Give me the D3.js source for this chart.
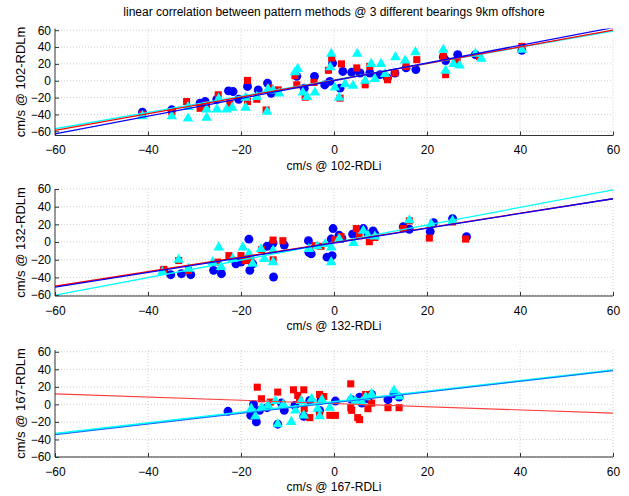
<!DOCTYPE html>
<html>
<head>
<meta charset="utf-8">
<script src="https://cdn.jsdelivr.net/npm/d3@7"></script>
<style>
body{margin:0;background:#fff;}
text{font-family:"Liberation Sans",Arial,sans-serif;fill:#000;}
.grid line{stroke:#cfcfcf;stroke-dasharray:1,2;}
.axis path,.axis line{stroke:#333;}
</style>
</head>
<body>
<div id="chart"></div>
<script>
var w = 629, h = 496;
var left = 55, right = 613;
var panelTops = [28.5, 189, 350];
var panelH = 107;

var titleText = "linear correlation between pattern methods @ 3 different bearings 9km offshore";
var bearings = ["102", "132", "167"];
var xTicks = [-60, -40, -20, 0, 20, 40, 60];
var yTicks = [-60, -40, -20, 0, 20, 40, 60];
var xLimits = [-60, 60];
var yLimits = [[-65, 62], [-61, 60], [-60, 62]];

// fitted lines, [slope, intercept]
var fitBlue = [[1.05, 0], [0.833, -1], [0.61, 1.9]];
var fitRed = [[0.992, 0.5], [0.825, -0.5], [-0.183, 1]];
var fitCyan = [[0.967, 1], [0.992, -0.5], [0.604, 2.75]];

// 102
var p1Blue = [[-41.2,-37.2],[-34.9,-34.5],[-28.8,-26.7],[-27.7,-24.7],[-25.2,-22],[-22.7,-12],[-21.7,-12.8],
  [-20.5,-22],[-18.6,-6.8],[-16.3,-10.8],[-14.3,-2.8],[-13.5,-15],[-8,5.2],[-6.4,-8.8],[-4.2,5.2],[-2,-5],
  [-0.3,21],[-0.9,-0.8],[1.3,-8.8],[1.9,11],[3.8,10],[5.6,9.2],[7.7,9.2],[9.9,7.2],[11.5,3.2],[13.1,9.2],
  [15.5,15.2],[17.6,13.2],[23.5,28.3],[24,24],[26.6,31],[30.4,31],[40.4,36]];
var p1Red = [[-41.2,-40],[-34.9,-36.7],[-31.7,-24.7],[-28.8,-32.7],[-27.4,-28.7],[-24.9,-16.7],[-22.4,-26.7],
  [-18.6,0.4],[-18.6,-24.7],[-16.6,-22],[-14.6,-34.7],[-13.8,-8.8],[-12,-10.8],[-8.4,6],[-8,-4.8],[-6.2,-19.5],
  [-4.3,-2],[-1.2,12.4],[-0.5,27],[1.6,20],[1.3,-20.7],[4.9,15.2],[6.7,-4.8],[7.7,17.1],[11.5,1.2],[13.1,9.2],
  [15.5,17],[17.8,25],[23.5,28.8],[24,7.2],[26.5,24],[31.3,28.8],[40.4,40.8]];
var p1Cyan = [[-41.2,-42],[-34.9,-42],[-31.4,-44.8],[-31.4,-31.2],[-27.4,-44],[-27.4,-34],[-25.2,-34],[-24.8,-21.2],
  [-23.1,-34],[-21.9,-32],[-19,-32],[-19,-20],[-16.6,-19.2],[-14.4,-36.8],[-14.2,-10],[-13.1,-11.6],[-11.8,-15.2],
  [-8.4,10],[-7.8,14],[-6.7,-14],[-5.8,-19.2],[-4.1,-14],[-0.6,32],[-0.8,16],[0.2,-8],[1.1,-20],[2.4,-4],[5,32],
  [4.1,-6],[6.7,0],[8,20],[8.8,2],[10.1,20],[11,8],[13.2,28],[15.3,24],[17.5,34],[23.5,36.8],[24,12],[25.7,20],
  [27,18],[30.4,32],[31.7,26],[40.4,36.8]];

// 132
var p2Blue = [[-36.6,-32],[-35.1,-36.9],[-32.8,-35.8],[-30.8,-36.9],[-25.9,-32],[-24.2,-35.8],[-21.1,-24.6],
  [-20,-22.7],[-18.3,3.3],[-18.1,-32],[-17.5,-24.6],[-14.4,-4.8],[-13.1,-1.1],[-13,-39.5],[-10.7,-3.4],[-5.5,1.5],
  [-5.4,-11.6],[-4.9,-13.4],[-1.5,-17.1],[-0.4,-15.3],[-0.2,15.3],[-0.6,3.4],[1.1,7.8],[1.7,4.1],[4,9],[6.3,15.3],
  [7.3,9],[8.4,12.7],[8.8,9],[14.9,17.5],[16.2,14.5],[20.7,11.9],[21.4,22],[25.5,26.5],[28.5,6]];
var p2Red = [[-36.6,-30.9],[-33.4,-20.9],[-31.3,-32],[-25,-22.7],[-22.6,-15.3],[-20,-15.3],[-19,-20.9],[-17.9,-19],
  [-15.6,-8.6],[-13.1,2.2],[-13.1,-20.1],[-11,1.5],[-4.1,-4.1],[-2.8,-4.8],[0.2,2.6],[1.5,6.3],[4.8,15.3],[5.4,7.1],
  [7.6,0.4],[8.8,5.2],[16.2,24],[14.9,15.3],[20.5,4.5],[25.5,22.7],[28.3,3.4]];
var p2Cyan = [[-36.9,-33.9],[-33.4,-20.1],[-31.3,-30.2],[-26.1,-22.7],[-24.8,-6],[-24.3,-28.3],[-21.8,-19],[-19.6,-6],
  [-18.3,-13.4],[-17.5,-24.6],[-15.7,-7.8],[-15,-19],[-13.1,-22.7],[-13.1,-9.7],[-5.4,-7.8],[-3.6,-4.8],[-1.9,-2.2],
  [-0.6,-22.7],[-0.6,-6],[1.1,3.4],[4.2,-1.1],[6.3,12.7],[7.3,7.1],[8.8,6.3],[16.2,24.6],[20.9,20.1],[25.5,23.9]];

// 167
var p3Blue = [[-22.8,-7.9],[-17.9,-12.5],[-17.3,0],[-16.7,-20],[-16,-6.8],[-14.4,-3.8],[-12.1,-22.6],[-11.3,1.5],
  [-10.7,-6.8],[-8.4,-1.1],[-6.5,-13.6],[-5.2,4.5],[-3.1,-6.8],[-2.8,4.5],[0.3,3.8],[3.8,5.3],[5.5,8.3],[6,1.5],
  [7.3,6.4],[8.1,11.3],[11.6,5.3],[12.9,12],[14,8.3]];
var p3Red = [[-16.5,19.6],[-15.6,6.4],[-13.7,2.6],[-12.1,14],[-8.7,16.6],[-7.8,10.2],[-7.4,4.5],[-6.5,16.6],
  [-6.4,-4.9],[-5.2,-15.1],[-3.1,11.3],[-3.1,-12.5],[-2.2,9],[-0.9,-12.5],[0.3,-12.5],[3.6,23.4],[3.6,-3.8],
  [3.8,-6.8],[5.1,-15.1],[5.5,-17.4],[6.8,11.3],[7.6,10.2],[7.3,-4.9],[8.1,1.5],[11.6,-3.8],[14,-3.8]];
var p3Cyan = [[-17.8,-4.9],[-16.9,-13.6],[-15.6,-3.8],[-14.2,-1.1],[-12.6,3.8],[-12.1,-22.6],[-10.9,0],[-9.2,-20],
  [-8.3,-6.8],[-7.1,3.8],[-6.5,-12.5],[-4.8,6.4],[-3.5,-4.9],[-3.1,-13.6],[-2.6,5.3],[-0.9,-3.8],[3.6,6.4],
  [4.6,3.8],[6,2.6],[6.8,8.3],[8.1,12],[12.9,15.8],[14,9]];

var blueSets = [p1Blue, p2Blue, p3Blue];
var redSets = [p1Red, p2Red, p3Red];
var cyanSets = [p1Cyan, p2Cyan, p3Cyan];

var svg = d3.select("#chart").append("svg")
  .attr("width", w).attr("height", h);

svg.append("text")
  .attr("x", (left + right) / 2)
  .attr("y", 16)
  .style("text-anchor", "middle")
  .style("font-size", "12px")
  .text(titleText);

var xScale = d3.scaleLinear().domain(xLimits).range([left, right]);

function drawPanel(i) {
  var top = panelTops[i];
  var bottom = top + panelH;
  var yScale = d3.scaleLinear().domain(yLimits[i]).range([bottom, top]);
  var g = svg.append("g");

  // grid
  var grid = g.append("g").attr("class", "grid");
  grid.selectAll(".gx").data(xTicks.slice(1)).enter().append("line")
    .attr("x1", function(d) { return xScale(d); })
    .attr("x2", function(d) { return xScale(d); })
    .attr("y1", top).attr("y2", bottom);
  grid.selectAll(".gy").data(yTicks).enter().append("line")
    .attr("x1", left).attr("x2", right)
    .attr("y1", function(d) { return yScale(d); })
    .attr("y2", function(d) { return yScale(d); });

  var clipId = "clip" + i;
  g.append("clipPath").attr("id", clipId).append("rect")
    .attr("x", left).attr("y", top).attr("width", right - left).attr("height", panelH);

  // markers
  var circ = d3.symbol().type(d3.symbolCircle).size(62);
  var sq = d3.symbol().type(d3.symbolSquare).size(50);
  var tri = d3.symbol().type(d3.symbolTriangle).size(48);
  function marks(data, sym, color) {
    g.append("g").selectAll("path").data(data).enter().append("path")
      .attr("d", sym)
      .attr("transform", function(d) { return "translate(" + xScale(d[0]) + "," + yScale(d[1]) + ")"; })
      .attr("fill", color);
  }
  marks(blueSets[i], circ, "#0000ff");
  marks(redSets[i], sq, "#ff0000");
  marks(cyanSets[i], tri, "#00ffff");

  // fitted lines
  var line = d3.line()
    .x(function(d) { return xScale(d); });
  function fit(f, color, width) {
    line.y(function(d) { return yScale(f[0] * d + f[1]); });
    g.append("path")
      .datum(xLimits)
      .attr("d", line)
      .attr("clip-path", "url(#" + clipId + ")")
      .attr("fill", "none")
      .attr("stroke", color)
      .attr("stroke-width", width);
  }
  if (i === 2) {
    fit(fitRed[i], "#ff4040", 1.1);
    fit(fitCyan[i], "#00ffff", 2);
    fit(fitBlue[i], "#2060ff", 1);
  } else {
    fit(fitCyan[i], "#00ffff", 1.3);
    fit(fitRed[i], "#ff0000", 1.3);
    fit(fitBlue[i], "#0000ff", 1.3);
  }

  // axes
  var xAxis = d3.axisBottom(xScale).tickValues(xTicks).tickSize(-4).tickPadding(10);
  var ax = g.append("g").attr("class", "axis")
    .attr("transform", "translate(0," + bottom + ")")
    .call(xAxis);
  ax.select(".domain").attr("d", "M" + left + ",0H" + right);
  ax.selectAll("text").style("font-size", "12px").attr("fill", "#000");

  var yAxis = d3.axisLeft(yScale).tickValues(yTicks).tickSize(-4).tickPadding(4);
  var ay = g.append("g").attr("class", "axis")
    .attr("transform", "translate(" + left + ",0)")
    .call(yAxis);
  ay.select(".domain").attr("d", "M0," + top + "V" + bottom);
  ay.selectAll("text").style("font-size", "12px").attr("fill", "#000");

  g.append("text")
    .attr("x", (left + right) / 2)
    .attr("y", bottom + 34)
    .style("text-anchor", "middle")
    .style("font-size", "12px")
    .text("cm/s @ " + bearings[i] + "-RDLi");

  g.append("text")
    .attr("transform", "translate(25," + (top + panelH / 2) + ") rotate(-90)")
    .style("text-anchor", "middle")
    .style("font-size", "13px")
    .text("cm/s @ " + bearings[i] + "-RDLm");
}

for (var i = 0; i < 3; i++) drawPanel(i);
</script>
</body>
</html>
